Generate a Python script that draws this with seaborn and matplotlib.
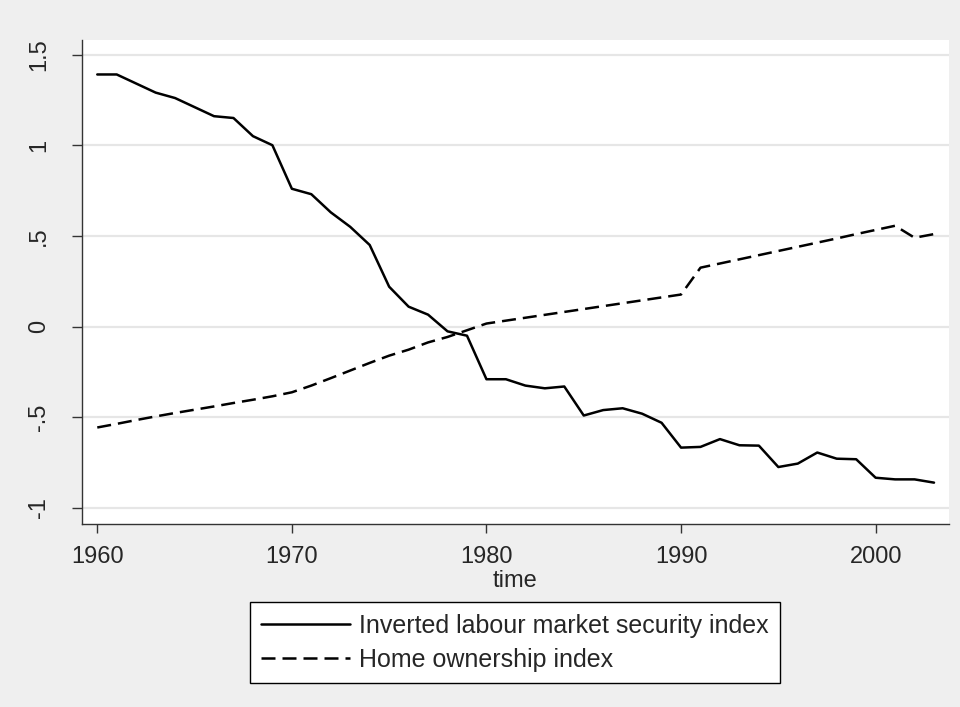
import matplotlib
matplotlib.use("Agg")
import matplotlib.pyplot as plt
import seaborn as sns
import pandas as pd
import numpy as np

years = list(range(1960, 2004))
labour_security_inv = [1.39, 1.39, 1.34, 1.29, 1.26, 1.21, 1.16, 1.15, 1.05, 1.00,
                       0.76, 0.73, 0.63, 0.55, 0.45, 0.22, 0.11, 0.066, -0.026, -0.05,
                       -0.29, -0.29, -0.325, -0.34, -0.33, -0.49, -0.46, -0.45, -0.48, -0.53,
                       -0.667, -0.663, -0.62, -0.654, -0.656, -0.774, -0.755, -0.694, -0.728, -0.731,
                       -0.833, -0.842, -0.842, -0.86]
home_ownership = [-0.556, -0.536, -0.515, -0.495, -0.476, -0.458, -0.44, -0.421, -0.403, -0.384,
                  -0.362, -0.325, -0.284, -0.242, -0.2, -0.16, -0.127, -0.087, -0.057, -0.02,
                  0.017, 0.033, 0.049, 0.065, 0.081, 0.097, 0.113, 0.129, 0.145, 0.161,
                  0.177, 0.325, 0.348, 0.371, 0.394, 0.417, 0.44, 0.463, 0.486, 0.51,
                  0.533, 0.556, 0.49, 0.51]
series_names = ["Inverted labour market security index", "Home ownership index"]
y_ticks = [-1, -0.5, 0, 0.5, 1, 1.5]
y_tick_labels = ["-1", "-.5", "0", ".5", "1", "1.5"]
x_ticks = [1960, 1970, 1980, 1990, 2000]

df = pd.DataFrame({
    "time": years * 2,
    "value": labour_security_inv + home_ownership,
    "series": [series_names[0]] * len(years) + [series_names[1]] * len(years),
})

sns.set_style("white")
plt.rcParams["font.family"] = ["Liberation Sans", "DejaVu Sans"]

bg = "#EFEFEF"
fig = plt.figure(figsize=(9.6, 7.07), dpi=100, facecolor=bg)
ax = fig.add_axes([81.7 / 960, 1 - 524 / 707, (949 - 81.7) / 960, (524 - 40) / 707])
ax.set_facecolor("white")

sns.lineplot(data=df, x="time", y="value", style="series", ax=ax,
             color="black", linewidth=1.8,
             dashes={series_names[0]: "", series_names[1]: (5.6, 2.8)},
             legend=True)

ax.set_xlim(1959.2, 2003.77)
ax.set_ylim(-1.088, 1.58)
ax.set_yticks(y_ticks)
ax.set_yticklabels(y_tick_labels, rotation=90, va="center")
ax.set_xticks(x_ticks)
ax.set_xticklabels([str(t) for t in x_ticks])

for v in y_ticks:
    ax.axhline(v, color="#E6E6E6", linewidth=1.6, zorder=0)

for side in ["top", "right"]:
    ax.spines[side].set_visible(False)
for side in ["left", "bottom"]:
    ax.spines[side].set_color("#333333")
    ax.spines[side].set_linewidth(1.0)

ax.tick_params(axis="y", direction="out", length=7, width=1, color="#333333",
               labelsize=17, pad=16, left=True)
ax.tick_params(axis="x", direction="out", length=6.5, width=1, color="#333333",
               labelsize=17, pad=9, bottom=True)
ax.set_ylabel("")
ax.set_xlabel("time", fontsize=17, labelpad=2)

handles, labels = ax.get_legend_handles_labels()
ax.get_legend().remove()
leg = fig.legend(handles, labels, loc="center", bbox_to_anchor=(515 / 960, 1 - 642.5 / 707),
                 fontsize=18, frameon=True, fancybox=False, framealpha=1,
                 edgecolor="black", handlelength=3.55, handletextpad=0.35,
                 borderpad=0.45, labelspacing=0.4, borderaxespad=0)
leg.get_frame().set_linewidth(1.0)

fig.savefig("out.png", dpi=100, facecolor=bg)
